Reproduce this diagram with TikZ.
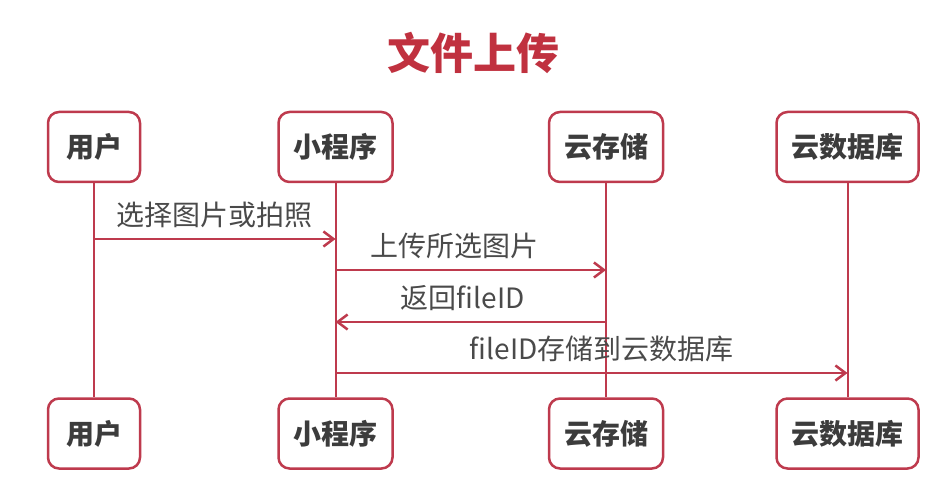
\documentclass[tikz,border=0pt]{standalone}
\usepackage{fontspec}
\setmainfont{Noto Sans CJK SC}
\usepackage{xcolor}
\usepackage{tikz}
\usetikzlibrary{positioning,arrows.meta}

\definecolor{seqred}{HTML}{BE3A4D}
\definecolor{titlered}{HTML}{C0313F}
\definecolor{boxgray}{HTML}{3C3C3C}
\definecolor{labelgray}{HTML}{4A4A4A}

\begin{document}
\begin{tikzpicture}[
    x=1pt, y=-1pt,
    >={Straight Barb[length=10pt,width=15pt]},
    every node/.style={font=\fontsize{28}{30}\selectfont},
    actor/.style={rectangle, draw=seqred, line width=2.5pt, rounded corners=11pt,
        fill=white, minimum width=92pt, minimum height=70pt, inner xsep=15pt,
        text=boxgray, font=\fontsize{28}{30}\selectfont\bfseries},
    lifeline/.style={draw=seqred, line width=2pt},
    msg/.style={->, draw=seqred, line width=2.5pt},
    msglabel/.style={text=labelgray, inner sep=0pt, above=10pt}
]
\useasboundingbox (0,0) rectangle (945,486);

\node[font=\fontsize{43}{45}\selectfont\bfseries, text=titlered] (title) at (473.5,53) {文件上传};

\node[actor] (user) at (94,147) {用户};
\node[actor] (app) [right=136pt of user] {小程序};
\node[actor] (storage) [right=154pt of app] {云存储};
\node[actor] (db) [right=111pt of storage] {云数据库};

\node[actor] (user_b) [below=214pt of user] {用户};
\node[actor] (app_b) [below=214pt of app] {小程序};
\node[actor] (storage_b) [below=214pt of storage] {云存储};
\node[actor] (db_b) [below=214pt of db] {云数据库};

\draw[lifeline] (user) -- (user_b);
\draw[lifeline] (app) -- (app_b);
\draw[lifeline] (storage) -- (storage_b);
\draw[lifeline] (db) -- (db_b);

\coordinate (m1) at (0,239);
\coordinate (m2) at (0,270);
\coordinate (m3) at (0,322);
\coordinate (m4) at (0,373);

\draw[msg] (user.south |- m1) -- (app.south |- m1) node[msglabel, midway] {选择图片或拍照};
\draw[msg] (app.south |- m2) -- (storage.south |- m2) node[msglabel, pos=0.44] {上传所选图片};
\draw[msg] (storage.south |- m3) -- (app.south |- m3) node[msglabel, pos=0.53] {返回fileID};
\draw[msg] (app.south |- m4) -- (db.south |- m4) node[msglabel, pos=0.52] {fileID存储到云数据库};

\end{tikzpicture}
\end{document}
